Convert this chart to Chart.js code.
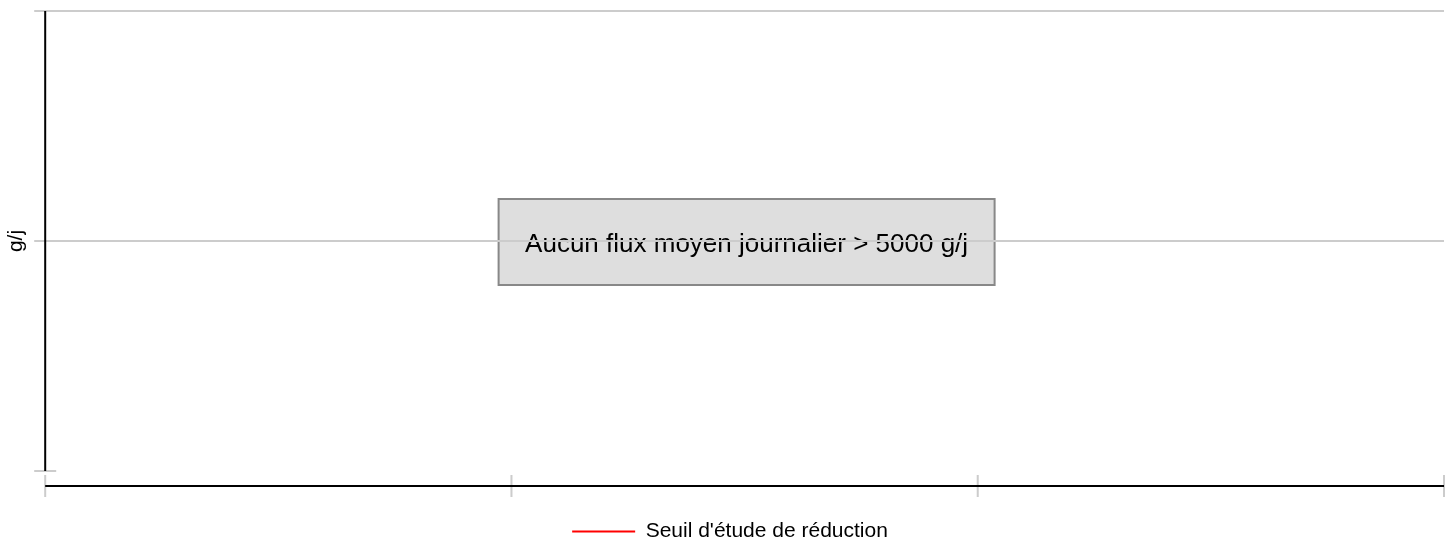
<!DOCTYPE html>
<html lang="fr">
<head>
  <meta charset="UTF-8">
  <title>Flux moyen journalier</title>
  <script src="https://cdn.jsdelivr.net/npm/chart.js"></script>
  <style>
    body { margin: 0; background: #fff; }
  </style>
</head>
<body>
<canvas id="chart" width="1448" height="539"></canvas>
<script>
// chart data
const xTicks = [0, 1, 2, 3];
const yTicks = [0, 1, 2];
const seuilLabel = "Seuil d'étude de réduction";
const seuilData = [];   // no flux above the threshold, nothing to draw
const yTitle = 'g/j';
const message = 'Aucun flux moyen journalier > 5000 g/j';

const FONT = "'Liberation Sans', Arial, sans-serif";

// grey message box, drawn under the grid lines
const messageBox = {
  id: 'messageBox',
  beforeDraw(chart) {
    const {ctx, chartArea: a} = chart;
    const cx = (a.left + a.right) / 2 + 2;
    const cy = (a.top + a.bottom) / 2 + 1;
    ctx.save();
    ctx.fillStyle = '#dedede';
    ctx.strokeStyle = '#888888';
    ctx.lineWidth = 2;
    ctx.fillRect(cx - 248, cy - 43, 496, 86);
    ctx.strokeRect(cx - 248, cy - 43, 496, 86);
    ctx.fillStyle = '#000';
    ctx.font = '26px ' + FONT;
    ctx.textAlign = 'center';
    ctx.textBaseline = 'alphabetic';
    ctx.fillText(message, cx, cy + 9.5);
    ctx.restore();
  }
};

// R-style detached axes with ticks crossing the axis line
const axes = {
  id: 'axes',
  afterLayout(chart) {
    // legend sits a bit right of the canvas centre
    chart.legend.left += 8;
    chart.legend.right += 8;
  },
  afterDraw(chart) {
    const {ctx, chartArea: a, scales: {x, y}} = chart;
    const xAxisY = a.bottom + 15;
    ctx.save();
    ctx.strokeStyle = '#cccccc';
    ctx.lineWidth = 2;
    ctx.beginPath();
    yTicks.forEach(v => {
      const py = y.getPixelForValue(v);
      ctx.moveTo(a.left - 11, py);
      ctx.lineTo(a.left + 11, py);
    });
    xTicks.forEach(v => {
      const px = x.getPixelForValue(v);
      ctx.moveTo(px, xAxisY - 11);
      ctx.lineTo(px, xAxisY + 11);
    });
    ctx.stroke();

    ctx.strokeStyle = '#000';
    ctx.beginPath();
    ctx.moveTo(a.left, y.getPixelForValue(yTicks[yTicks.length - 1]));
    ctx.lineTo(a.left, y.getPixelForValue(yTicks[0]));
    ctx.moveTo(x.getPixelForValue(xTicks[0]), xAxisY);
    ctx.lineTo(x.getPixelForValue(xTicks[xTicks.length - 1]), xAxisY);
    ctx.stroke();
    ctx.restore();
  }
};

new Chart(document.getElementById('chart'), {
  type: 'line',
  data: {
    datasets: [{
      label: seuilLabel,
      data: seuilData,
      borderColor: 'red',
      backgroundColor: 'red',
      borderWidth: 0
    }]
  },
  options: {
    responsive: false,
    animation: false,
    layout: { padding: { top: 11, right: 4, left: 0, bottom: -13 } },
    plugins: {
      legend: {
        position: 'bottom',
        labels: {
          boxWidth: 63,
          boxHeight: 2,
          color: '#000',
          font: { size: 21, family: FONT }
        }
      },
      tooltip: { enabled: false }
    },
    scales: {
      x: {
        type: 'linear',
        min: xTicks[0],
        max: xTicks[xTicks.length - 1],
        ticks: { display: false, stepSize: 1 },
        grid: { display: false, drawTicks: true, tickLength: 40 },
        border: { display: false }
      },
      y: {
        min: yTicks[0],
        max: yTicks[yTicks.length - 1],
        ticks: { display: false, stepSize: 1 },
        grid: {
          drawTicks: false,
          lineWidth: 2,
          color: c => c.tick && c.tick.value === 0 ? 'rgba(0,0,0,0)' : '#cccccc'
        },
        border: { display: false },
        title: {
          display: true,
          text: yTitle,
          color: '#000',
          font: { size: 21, family: FONT },
          padding: { top: 4, bottom: 16 }
        }
      }
    }
  },
  plugins: [messageBox, axes]
});
</script>
</body>
</html>
